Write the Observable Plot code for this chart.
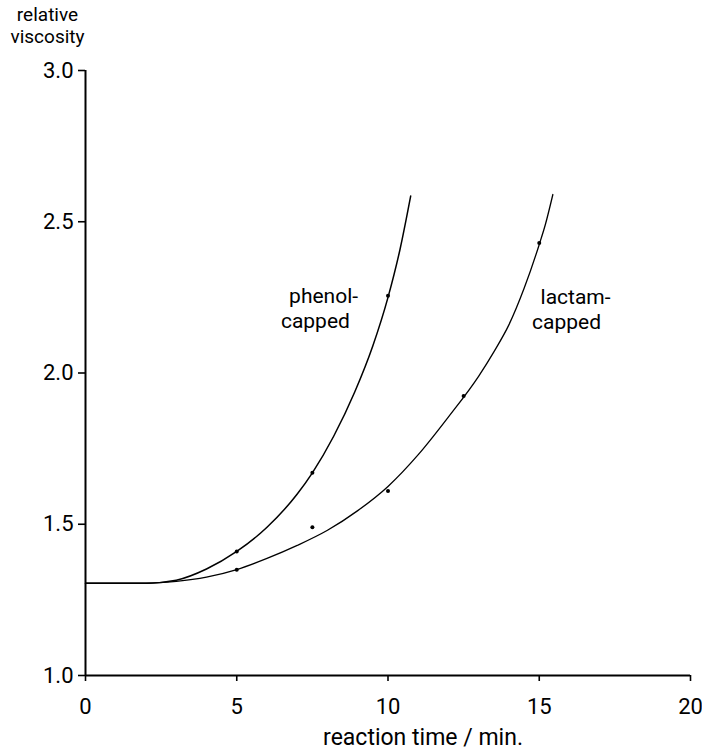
<!DOCTYPE html>
<html><head><meta charset="utf-8">
<script src="https://cdn.jsdelivr.net/npm/d3@7"></script>
<script src="https://cdn.jsdelivr.net/npm/@observablehq/plot@0.6"></script>
<style>body{margin:0;background:#fff} svg{display:block}</style>
</head><body><div id="chart"></div>
<script>
// Fitted curves
const phenolCurveT = [0, 1, 2, 3, 4, 5, 6, 7, 7.5, 8.2, 8.9, 9.5, 10, 10.4, 10.75];
const phenolCurveV = [1.305, 1.305, 1.305, 1.315, 1.352, 1.41, 1.49, 1.60, 1.67, 1.79, 1.937, 2.09, 2.25, 2.41, 2.585];
const lactamCurveT = [0, 1, 2, 3, 4, 5, 6, 7, 8, 9, 10, 11, 12, 13, 13.5, 14, 14.5, 15, 15.2, 15.45];
const lactamCurveV = [1.305, 1.305, 1.305, 1.311, 1.325, 1.35, 1.387, 1.43, 1.48, 1.545, 1.625, 1.73, 1.855, 1.99, 2.07, 2.16, 2.28, 2.425, 2.49, 2.59];
// Measured points
const phenolPtsT = [5, 7.5, 10];
const phenolPtsV = [1.41, 1.67, 2.255];
const lactamPtsT = [5, 7.5, 10, 12.5, 15];
const lactamPtsV = [1.35, 1.49, 1.61, 1.924, 2.43];
// Axis ticks
const xTicks = [0, 5, 10, 15, 20];
const yTicks = [1.0, 1.5, 2.0, 2.5, 3.0];
// Curve labels
const labelText = ["phenol-", "capped", "lactam-", "capped"];
const labelT = [7.87, 7.6, 16.2, 15.9];
const labelV = [2.232, 2.149, 2.228, 2.146];

const zip = (T, V) => T.map((t, i) => ({t, v: V[i]}));
const phenolCurve = zip(phenolCurveT, phenolCurveV);
const lactamCurve = zip(lactamCurveT, lactamCurveV);
const phenolPts = zip(phenolPtsT, phenolPtsV);
const lactamPts = zip(lactamPtsT, lactamPtsV);
const labels = labelText.map((s, i) => ({s, t: labelT[i], v: labelV[i]}));

const plot = Plot.plot({
  width: 702, height: 749,
  marginLeft: 85, marginRight: 12, marginTop: 70, marginBottom: 74,
  style: {fontFamily: "Roboto, sans-serif", fontSize: "22px", color: "#000", background: "#fff", overflow: "visible"},
  x: {domain: [0, 20]},
  y: {domain: [1, 3]},
  marks: [
    Plot.axisX({ticks: xTicks, tickSize: 6, tickPadding: 17, label: null, tickFormat: d => String(d), strokeWidth: 1.6}),
    Plot.axisY({ticks: yTicks, tickSize: 7, tickPadding: 5, label: null, tickFormat: d => d.toFixed(1), strokeWidth: 1.6}),
    Plot.ruleX([0], {stroke: "#000", strokeWidth: 2}),
    Plot.ruleY([1], {stroke: "#000", strokeWidth: 2}),
    Plot.line(phenolCurve, {x: "t", y: "v", curve: "monotone-x", stroke: "#000", strokeWidth: 1.5}),
    Plot.line(lactamCurve, {x: "t", y: "v", curve: "monotone-x", stroke: "#000", strokeWidth: 1.3}),
    Plot.dot(phenolPts, {x: "t", y: "v", r: 2, fill: "#000", stroke: null}),
    Plot.dot(lactamPts, {x: "t", y: "v", r: 2, fill: "#000", stroke: null}),
    Plot.text(labels, {x: "t", y: "v", text: "s", textAnchor: "middle", lineAnchor: "bottom", fontSize: 21, fill: "#000"}),
    Plot.text(["reaction time / min."], {frameAnchor: "bottom", dx: 35, dy: 69, lineAnchor: "bottom", fontSize: 23, fill: "#000"}),
    Plot.text(["relative"], {frameAnchor: "top-left", dx: -38, dy: -63, lineAnchor: "top", textAnchor: "middle", fontSize: 19, fill: "#000"}),
    Plot.text(["viscosity"], {frameAnchor: "top-left", dx: -38, dy: -41, lineAnchor: "top", textAnchor: "middle", fontSize: 19, fill: "#000"})
  ]
});
document.getElementById("chart").appendChild(plot);
</script>
</body></html>
